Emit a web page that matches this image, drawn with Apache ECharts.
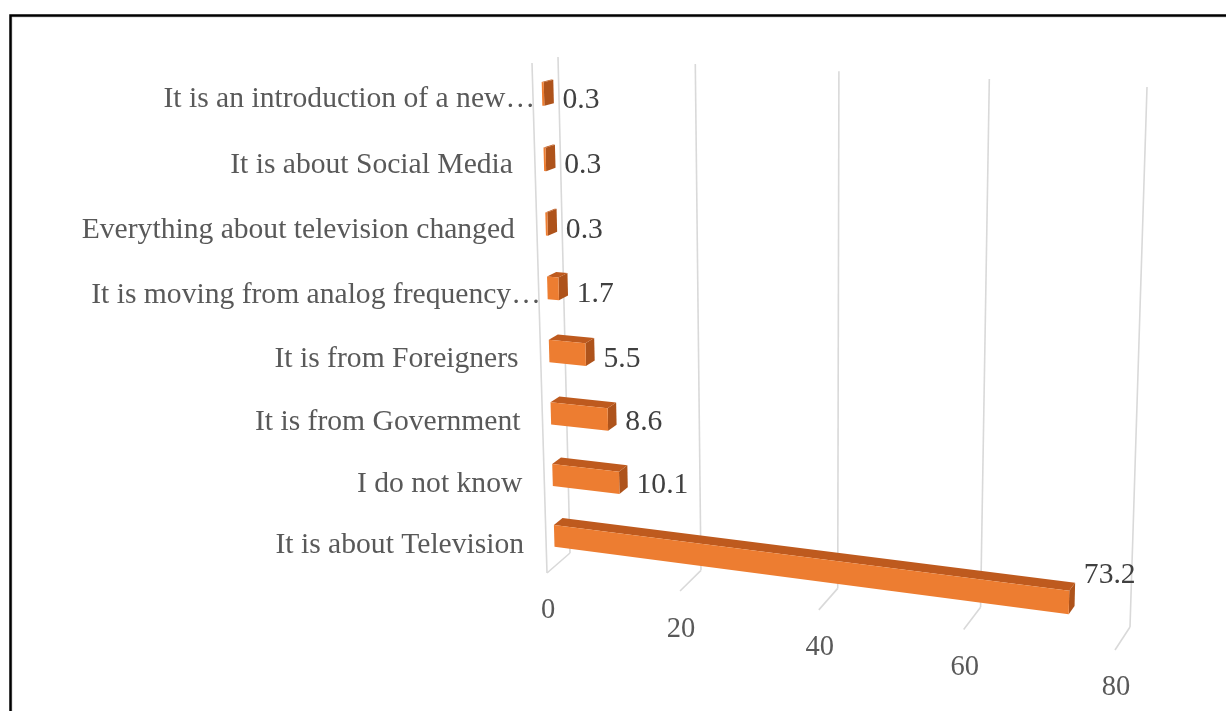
<!DOCTYPE html>
<html>
<head>
<meta charset="utf-8">
<script src="https://cdn.jsdelivr.net/npm/echarts@6/dist/echarts.min.js"></script>
<style>
  html, body { margin: 0; padding: 0; background: #ffffff; }
  #chart { width: 1226px; height: 711px; }
</style>
</head>
<body>
<div id="chart"></div>
<script>
// Survey answers, listed from the bottom of the chart upwards
const categories = [
  'It is about Television',
  'I do not know',
  'It is from Government',
  'It is from Foreigners',
  'It is moving from analog frequency…',
  'Everything about television changed',
  'It is about Social Media',
  'It is an introduction of a new…'
];
const values = [73.2, 10.1, 8.6, 5.5, 1.7, 0.3, 0.3, 0.3];
const valueTicks = [0, 20, 40, 60, 80];

const axisMin = valueTicks[0];
const axisMax = valueTicks[valueTicks.length - 1];

// Screen corners of the 3D box: front plane and back wall
// order: bottom-left, bottom-right, top-right, top-left
const FRONT_QUAD = [[547, 573], [1115, 650], [1129, 96], [532, 63]];
const BACK_QUAD  = [[570, 553], [1130, 627], [1147, 87], [558, 57]];

const BAR_FRAC = 0.36;          // bar thickness as a share of a category band
const T0 = 0.35, T1 = 0.72;     // depth range occupied by the bars
const FRONT_COLOR = '#ED7D31';
const TOP_COLOR = '#BE5A1E';
const SIDE_COLOR = '#AE531B';
const GRID_COLOR = '#D9D9D9';
const FONT = '"Liberation Serif", "Times New Roman", serif';

// Projective map of the unit square onto a quadrilateral
function quadMap(p0, p1, p2, p3) {
  const dx1 = p1[0] - p2[0], dx2 = p3[0] - p2[0], dx3 = p0[0] - p1[0] + p2[0] - p3[0];
  const dy1 = p1[1] - p2[1], dy2 = p3[1] - p2[1], dy3 = p0[1] - p1[1] + p2[1] - p3[1];
  const den = dx1 * dy2 - dx2 * dy1;
  const g = (dx3 * dy2 - dx2 * dy3) / den;
  const h = (dx1 * dy3 - dx3 * dy1) / den;
  const a = p1[0] - p0[0] + g * p1[0], b = p3[0] - p0[0] + h * p3[0], c = p0[0];
  const d = p1[1] - p0[1] + g * p1[1], e = p3[1] - p0[1] + h * p3[1], f = p0[1];
  return function (u, v) {
    const w = g * u + h * v + 1;
    return [(a * u + b * v + c) / w, (d * u + e * v + f) / w];
  };
}
const frontMap = quadMap.apply(null, FRONT_QUAD);
const backMap = quadMap.apply(null, BACK_QUAD);

// (u along values, h up the categories, t into the depth) -> screen
function project(u, h, t) {
  const f = frontMap(u, h), b = backMap(u, h);
  return [f[0] + (b[0] - f[0]) * t, f[1] + (b[1] - f[1]) * t];
}

// Normalised coordinates taken from the hidden cartesian axes
function makeFrame(api) {
  const o = api.coord([axisMin, 0]);
  const r = api.coord([axisMax, 0]);
  const band = o[1] - api.coord([axisMin, 1])[1];
  const baseY = o[1] + band / 2;
  const total = band * categories.length;
  return {
    u: function (v) { return (api.coord([v, 0])[0] - o[0]) / (r[0] - o[0]); },
    h: function (i, off) { return (baseY - (api.coord([axisMin, i])[1] - off * band)) / total; }
  };
}

function renderWalls(params, api) {
  const fr = makeFrame(api);
  const v = api.value(0);
  const u = fr.u(v);
  const bBot = project(u, 0, 1), bTop = project(u, 1, 1), fBot = project(u, 0, 0);
  const lineStyle = { stroke: GRID_COLOR, lineWidth: 1.6 };
  const children = [
    { type: 'line', shape: { x1: bBot[0], y1: bBot[1], x2: bTop[0], y2: bTop[1] }, style: lineStyle },
    { type: 'line', shape: { x1: fBot[0], y1: fBot[1], x2: bBot[0], y2: bBot[1] }, style: lineStyle },
    { type: 'text', style: { text: String(v), x: fBot[0] + 1, y: fBot[1] + 38, align: 'center', verticalAlign: 'middle',
        font: '28.5px ' + FONT, fill: '#595959' } }
  ];
  if (v === axisMin) {
    const fTop = project(u, 1, 0);
    children.push({ type: 'line', shape: { x1: fBot[0], y1: fBot[1], x2: fTop[0], y2: fTop[1] }, style: lineStyle });
  }
  return { type: 'group', children: children };
}

function renderCategoryLabel(params, api) {
  const fr = makeFrame(api);
  const i = api.value(1);
  const name = categories[i];
  const p = project(0, fr.h(i, 0), 0);
  const truncated = name.charAt(name.length - 1) === '…';
  return {
    type: 'text',
    style: { text: name, x: p[0] + (truncated ? 2 : -22), y: p[1] + 3, align: 'right', verticalAlign: 'middle',
      font: '29.6px ' + FONT, fill: '#595959' }
  };
}

function renderBar(params, api) {
  const fr = makeFrame(api);
  const v = api.value(0), i = api.value(1);
  const u0 = fr.u(axisMin), u1 = fr.u(v);
  const hb = fr.h(i, -BAR_FRAC / 2), ht = fr.h(i, BAR_FRAC / 2), hc = fr.h(i, 0);
  const front = [project(u0, hb, T0), project(u1, hb, T0), project(u1, ht, T0), project(u0, ht, T0)];
  const top = [project(u0, ht, T0), project(u1, ht, T0), project(u1, ht, T1), project(u0, ht, T1)];
  const end = [project(u1, hb, T0), project(u1, ht, T0), project(u1, ht, T1), project(u1, hb, T1)];
  const a = project(u0, hc, T0), b = project(u1, hc, T0);
  const lx = project(u1, hc, T1)[0] + 9;
  const ly = (a[1] + b[1]) / 2 + 6;
  return {
    type: 'group',
    children: [
      { type: 'polygon', shape: { points: end }, style: { fill: SIDE_COLOR } },
      { type: 'polygon', shape: { points: top }, style: { fill: TOP_COLOR } },
      { type: 'polygon', shape: { points: front }, style: { fill: FRONT_COLOR } },
      { type: 'text', style: { text: v.toFixed(1), x: lx, y: ly, align: 'left', verticalAlign: 'middle',
          font: '29.6px ' + FONT, fill: '#404040' } }
    ]
  };
}

const chart = echarts.init(document.getElementById('chart'), null, { renderer: 'canvas' });
chart.setOption({
  backgroundColor: '#ffffff',
  animation: false,
  grid: { left: 100, right: 100, top: 60, bottom: 60 },
  xAxis: { type: 'value', min: axisMin, max: axisMax, interval: valueTicks[1] - valueTicks[0], show: false },
  yAxis: { type: 'category', data: categories, show: false },
  graphic: [
    { type: 'rect', shape: { x: 11.5, y: 16.5, width: 1240, height: 720 }, style: { fill: 'none', stroke: '#d4d4d4', lineWidth: 2 } },
    { type: 'rect', shape: { x: 10.5, y: 15.5, width: 1240, height: 720 }, style: { fill: 'none', stroke: '#000000', lineWidth: 2.5 } }
  ],
  series: [
    {
      type: 'custom', name: 'walls', silent: true, z: 1,
      data: valueTicks.map(function (v) { return [v, 0]; }),
      encode: { x: 0, y: 1 },
      renderItem: renderWalls
    },
    {
      type: 'custom', name: 'categories', silent: true, z: 2,
      data: categories.map(function (c, i) { return [axisMin, i]; }),
      encode: { x: 0, y: 1 },
      renderItem: renderCategoryLabel
    },
    {
      type: 'custom', name: 'bars', silent: true, z: 3,
      data: values.map(function (v, i) { return [v, i]; }),
      encode: { x: 0, y: 1 },
      renderItem: renderBar
    }
  ]
});
</script>
</body>
</html>
